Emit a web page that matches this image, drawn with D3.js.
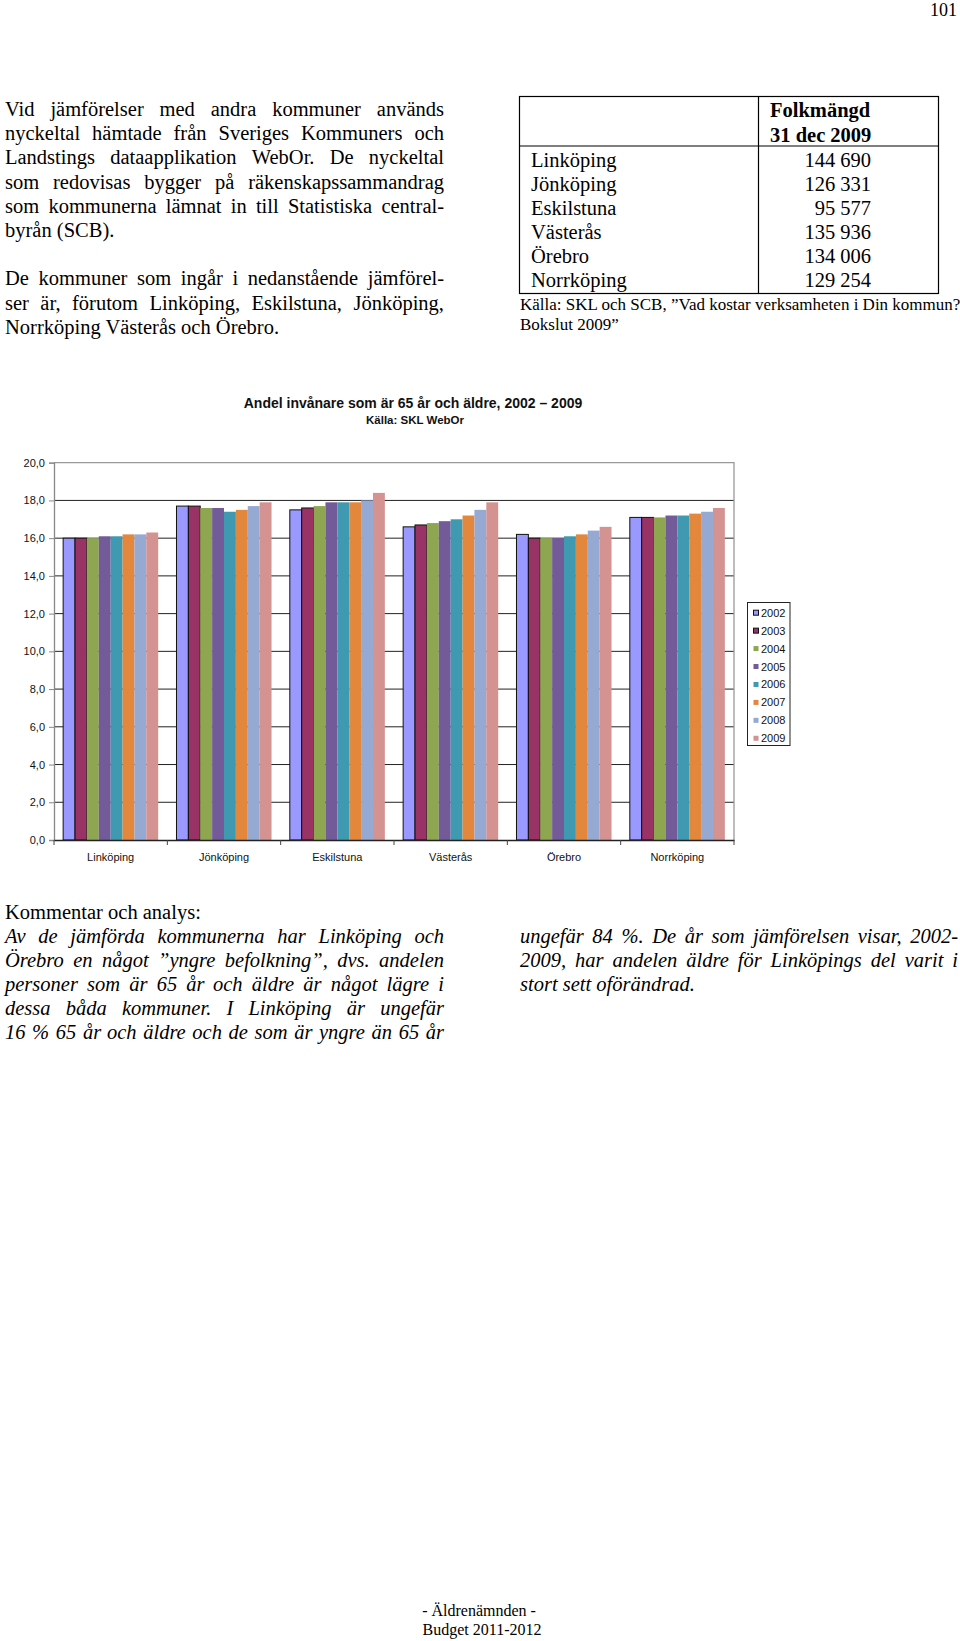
<!DOCTYPE html>
<html>
<head>
<meta charset="utf-8">
<script src="https://cdn.jsdelivr.net/npm/d3@7"></script>
<style>
  body { margin: 0; background: #fff; }
  .serif { font-family: "Liberation Serif", "Times New Roman", serif; fill: #000; }
  .sans { font-family: "Liberation Sans", Arial, sans-serif; fill: #111; }
</style>
</head>
<body>
<svg id="page" width="960" height="1641"></svg>
<script>
// chart data
const kommuner = ["Linköping", "Jönköping", "Eskilstuna", "Västerås", "Örebro", "Norrköping"];
const years = ["2002", "2003", "2004", "2005", "2006", "2007", "2008", "2009"];
const s2002 = [16.0, 17.7, 17.5, 16.6, 16.2, 17.1];
const s2003 = [16.0, 17.7, 17.6, 16.7, 16.0, 17.1];
const s2004 = [16.0, 17.6, 17.7, 16.8, 16.0, 17.1];
const s2005 = [16.1, 17.6, 17.9, 16.9, 16.0, 17.2];
const s2006 = [16.1, 17.4, 17.9, 17.0, 16.1, 17.2];
const s2007 = [16.2, 17.5, 17.9, 17.2, 16.2, 17.3];
const s2008 = [16.2, 17.7, 18.0, 17.5, 16.4, 17.4];
const s2009 = [16.3, 17.9, 18.4, 17.9, 16.6, 17.6];
const yTicks = [0, 2, 4, 6, 8, 10, 12, 14, 16, 18, 20];
const colors = ["#9999ff", "#993366", "#8da64f", "#735a98", "#3f99b0", "#e2873b", "#95a9d3", "#d49391"];

// table data
const tabellNamn = ["Linköping", "Jönköping", "Eskilstuna", "Västerås", "Örebro", "Norrköping"];
const folkmangd = ["144 690", "126 331", "95 577", "135 936", "134 006", "129 254"];

// page text
const intro1 = [
  "Vid jämförelser med andra kommuner används",
  "nyckeltal hämtade från Sveriges Kommuners och",
  "Landstings dataapplikation WebOr. De nyckeltal",
  "som redovisas bygger på räkenskapssammandrag",
  "som kommunerna lämnat in till Statistiska central-",
  "byrån (SCB)."
];
const intro2 = [
  "De kommuner som ingår i nedanstående jämförel-",
  "ser är, förutom Linköping, Eskilstuna, Jönköping,",
  "Norrköping Västerås och Örebro."
];
const kommentarV = [
  "Av de jämförda kommunerna har Linköping och",
  "Örebro en något ”yngre befolkning”, dvs. andelen",
  "personer som är 65 år och äldre är något lägre i",
  "dessa båda kommuner. I Linköping är ungefär",
  "16 % 65 år och äldre och de som är yngre än 65 år"
];
const kommentarH = [
  "ungefär 84 %. De år som jämförelsen visar, 2002-",
  "2009, har andelen äldre för Linköpings del varit i",
  "stort sett oförändrad."
];

const svg = d3.select("#page");

// en rad text, utjämnad över bredden om justify är satt
function textLine(x, y, width, str, size, style, justify) {
  const t = svg.append("text")
      .attr("class", "serif")
      .attr("x", x)
      .attr("y", y)
      .style("font-size", size + "px")
      .style("font-style", style || "normal");
  if (!justify) { t.text(str); return t; }
  const words = str.split(" ");
  const spans = words.map(w => t.append("tspan").text(w));
  const widths = spans.map(s => s.node().getComputedTextLength());
  const gap = (width - d3.sum(widths)) / (words.length - 1);
  let cx = x;
  spans.forEach((s, i) => { s.attr("x", cx); cx += widths[i] + gap; });
  return t;
}

// sidnummer
svg.append("text").attr("class", "serif")
    .attr("x", 957).attr("y", 16).attr("text-anchor", "end")
    .style("font-size", "18px").text("101");

// inledande text
intro1.forEach((l, i) => textLine(5, 116 + i * 24.2, 439, l, 20.5, "normal", i < intro1.length - 1));
intro2.forEach((l, i) => textLine(5, 285.4 + i * 24.2, 439, l, 20.5, "normal", i < intro2.length - 1));

// tabell
const tab = svg.append("g");
tab.append("rect")
    .attr("x", 519.5).attr("y", 96.5).attr("width", 419).attr("height", 197)
    .attr("fill", "none").attr("stroke", "#000").attr("stroke-width", 1.2);
tab.append("line").attr("x1", 758.5).attr("x2", 758.5).attr("y1", 96.5).attr("y2", 293.5)
    .attr("stroke", "#000").attr("stroke-width", 1.2);
tab.append("line").attr("x1", 519.5).attr("x2", 938.5).attr("y1", 146).attr("y2", 146)
    .attr("stroke", "#000").attr("stroke-width", 1.2);
tab.append("text").attr("class", "serif").attr("x", 770).attr("y", 117.3)
    .style("font-size", "20.5px").style("font-weight", "bold").text("Folkmängd");
tab.append("text").attr("class", "serif").attr("x", 770).attr("y", 141.7)
    .style("font-size", "20.5px").style("font-weight", "bold").text("31 dec 2009");
tab.selectAll(".namn").data(tabellNamn).enter().append("text")
    .attr("class", "serif namn")
    .attr("x", 531).attr("y", (d, i) => 167.3 + i * 23.9)
    .style("font-size", "20.5px").text(d => d);
tab.selectAll(".folk").data(folkmangd).enter().append("text")
    .attr("class", "serif folk")
    .attr("x", 871).attr("y", (d, i) => 167.3 + i * 23.9)
    .attr("text-anchor", "end")
    .style("font-size", "20.5px").text(d => d);
textLine(520, 310, 0, "Källa: SKL och SCB, ”Vad kostar verksamheten i Din kommun?", 17);
textLine(520, 330, 0, "Bokslut 2009”", 17);

// diagram
const plotLeft = 54, plotRight = 734, plotTop = 462.7, plotBottom = 840;

const x0 = d3.scaleBand().domain(kommuner).range([plotLeft, plotRight]).padding(0);
const x1 = d3.scaleBand().domain(years).range([0, x0.bandwidth()])
    .paddingInner(0).paddingOuter(0.77);
const y = d3.scaleLinear().domain([0, 20]).range([plotBottom, plotTop]);
const color = d3.scaleOrdinal().domain(years).range(colors);

const series = [s2002, s2003, s2004, s2005, s2006, s2007, s2008, s2009];
const data = kommuner.map((k, i) => ({
  kommun: k,
  values: years.map((yr, j) => ({ year: yr, value: series[j][i] }))
}));

const chart = svg.append("g");

chart.append("text").attr("class", "sans")
    .attr("x", 413).attr("y", 407.5).attr("text-anchor", "middle")
    .style("font-size", "14px").style("font-weight", "bold")
    .text("Andel invånare som är 65 år och äldre, 2002 – 2009");
chart.append("text").attr("class", "sans")
    .attr("x", 415).attr("y", 423.5).attr("text-anchor", "middle")
    .style("font-size", "11.5px").style("font-weight", "bold")
    .text("Källa: SKL WebOr");

// stödlinjer
chart.append("g").selectAll("line")
    .data(yTicks.filter(t => t > 0 && t < 20))
    .enter().append("line")
    .attr("x1", plotLeft).attr("x2", plotRight)
    .attr("y1", d => y(d)).attr("y2", d => y(d))
    .attr("stroke", "#222").attr("stroke-width", 1);

// ram
chart.append("path")
    .attr("d", `M${plotLeft},${y(20)}H${plotRight}V${plotBottom}`)
    .attr("fill", "none").attr("stroke", "#999").attr("stroke-width", 1.3);

// staplar
const grp = chart.selectAll(".grp").data(data).enter().append("g")
    .attr("class", "grp")
    .attr("transform", d => `translate(${x0(d.kommun)},0)`);
grp.selectAll("rect").data(d => d.values).enter().append("rect")
    .attr("x", d => x1(d.year))
    .attr("y", d => y(d.value))
    .attr("width", x1.bandwidth())
    .attr("height", d => plotBottom - y(d.value))
    .attr("fill", d => color(d.year))
    .attr("stroke", d => (d.year === "2002" || d.year === "2003") ? "#111" : "none")
    .attr("stroke-width", 1);

// y-axel
const yAxis = chart.append("g")
    .attr("transform", `translate(${plotLeft},0)`)
    .call(d3.axisLeft(y).tickValues(yTicks).tickSize(5).tickPadding(4)
      .tickFormat(d => d.toFixed(1).replace(".", ",")));
yAxis.select(".domain").attr("stroke", "#888").attr("stroke-width", 1.3);
yAxis.selectAll(".tick line").attr("stroke", "#888");
yAxis.attr("font-family", null).attr("font-size", null);
yAxis.selectAll("text").attr("class", "sans").style("font-size", "11px").attr("fill", "#111");

// x-axel
const xAxis = chart.append("g")
    .attr("transform", `translate(0,${plotBottom})`)
    .call(d3.axisBottom(x0).tickSize(0).tickPadding(13));
xAxis.select(".domain").attr("stroke", "#222").attr("stroke-width", 1.3);
xAxis.attr("font-family", null).attr("font-size", null);
xAxis.selectAll("text").attr("class", "sans").style("font-size", "11px").attr("fill", "#111");
chart.append("g").selectAll("line")
    .data(kommuner.map(k => x0(k)).concat([plotRight]))
    .enter().append("line")
    .attr("x1", d => d).attr("x2", d => d)
    .attr("y1", plotBottom).attr("y2", plotBottom + 5)
    .attr("stroke", "#444");

// förklaring
const legend = chart.append("g");
legend.append("rect")
    .attr("x", 747.5).attr("y", 602.5).attr("width", 42.5).attr("height", 143)
    .attr("fill", "#fff").attr("stroke", "#222").attr("stroke-width", 1);
const item = legend.selectAll(".item").data(years).enter().append("g")
    .attr("class", "item")
    .attr("transform", (d, i) => `translate(0,${612.7 + i * 17.94})`);
item.append("rect")
    .attr("x", 753.5).attr("y", -2.5).attr("width", 5).attr("height", 5)
    .attr("fill", d => color(d))
    .attr("stroke", d => (d === "2002" || d === "2003") ? "#111" : "none");
item.append("text").attr("class", "sans")
    .attr("x", 761).attr("y", 4)
    .style("font-size", "11px")
    .text(d => d);

// kommentar
textLine(5, 918.5, 0, "Kommentar och analys:", 20.5);
kommentarV.forEach((l, i) => textLine(5, 942.5 + i * 24.2, 439, l, 20.5, "italic", true));
kommentarH.forEach((l, i) => textLine(520, 942.5 + i * 24.2, 438, l, 20.5, "italic", i < kommentarH.length - 1));

// sidfot
svg.append("text").attr("class", "serif")
    .attr("x", 479).attr("y", 1616).attr("text-anchor", "middle")
    .style("font-size", "16px").text("- Äldrenämnden -");
svg.append("text").attr("class", "serif")
    .attr("x", 482).attr("y", 1635).attr("text-anchor", "middle")
    .style("font-size", "16px").text("Budget 2011-2012");
</script>
</body>
</html>
